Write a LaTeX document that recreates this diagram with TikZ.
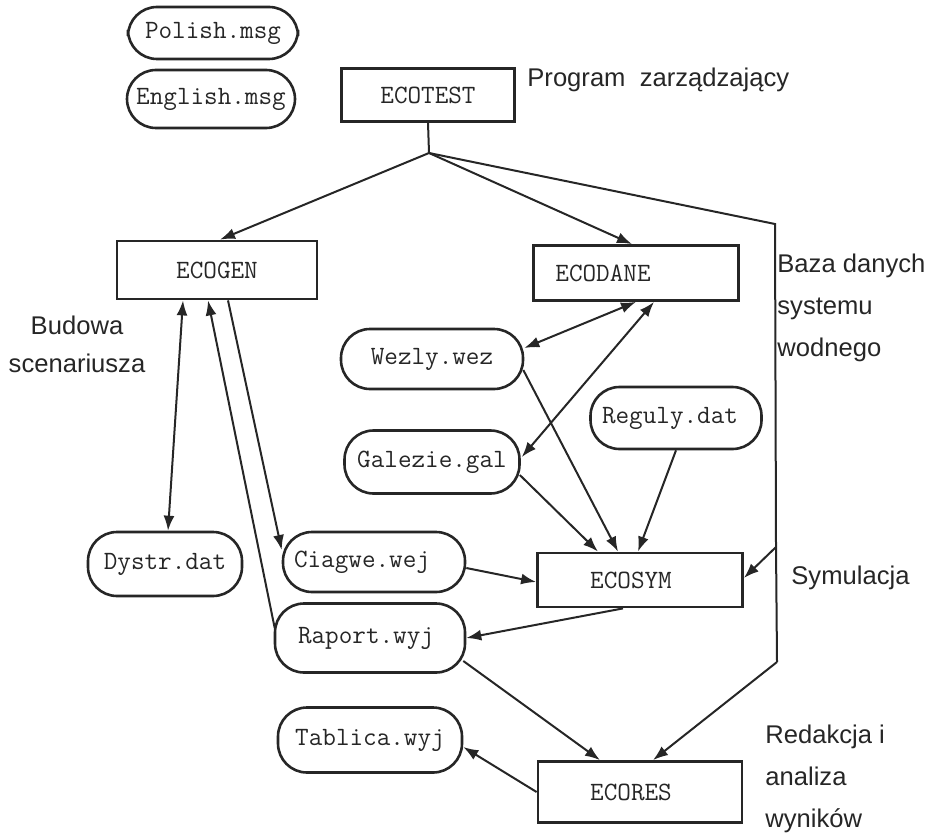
\documentclass[tikz,border=0pt]{standalone}
\usepackage{fontspec}
\setmainfont{Liberation Sans}
\usetikzlibrary{arrows.meta,calc}
\begin{document}
\begin{tikzpicture}[x=0.5pt,y=-0.5pt,
  boxnode/.style={draw=black!85, line width=1.4pt, inner sep=0pt, font=\ttfamily\fontsize{13.2}{14}\selectfont, text=black!85},
  filenode/.style={draw=black!85, line width=1.3pt, rounded corners=14.5pt, inner sep=0pt, font=\ttfamily\fontsize{13.2}{14}\selectfont, text=black!85},
  conn/.style={draw=black!85, line width=1pt},
  arr/.style={conn, -{Latex[length=7.5pt,width=5.5pt]}},
  darr/.style={conn, {Latex[length=7.5pt,width=5.5pt]}-{Latex[length=7.5pt,width=5.5pt]}},
  lbl/.style={font=\fontsize{12.8}{21}\selectfont, text=black!85, inner sep=0pt}
]
\useasboundingbox (0,0) rectangle (935,834);

% nodes
\node[filenode, minimum width=85pt, minimum height=26pt] (polish) at (213,33) {Polish.msg};
\node[filenode, minimum width=84pt, minimum height=29pt] (english) at (211,99) {English.msg};
\node[boxnode, minimum width=86.5pt, minimum height=26.5pt] (ecotest) at (428,95) {ECOTEST};
\node[boxnode, minimum width=100pt, minimum height=29pt] (ecogen) at (217,270) {ECOGEN};
\node[boxnode, minimum width=102.5pt, minimum height=27.5pt] (ecodane) at (636,273) {ECODANE\hspace*{33pt}};
\node[filenode, minimum width=91pt, minimum height=30pt] (wezly) at (432,359) {Wezly.wez};
\node[filenode, minimum width=87.5pt, minimum height=31.5pt] (galezie) at (432,462) {Galezie.gal};
\node[filenode, minimum width=85.5pt, minimum height=31pt] (reguly) at (676,418) {Reguly.dat\hspace*{6pt}};
\node[filenode, minimum width=77pt, minimum height=32pt] (dystr) at (165,564) {Dystr.dat};
\node[filenode, minimum width=91pt, minimum height=30pt] (ciagwe) at (374,562) {Ciagwe.wej\hspace*{12pt}};
\node[filenode, minimum width=95pt, minimum height=34.5pt] (raport) at (370,638) {Raport.wyj\hspace*{4pt}};
\node[filenode, minimum width=92pt, minimum height=32.5pt] (tablica) at (370,740) {Tablica.wyj};
\node[boxnode, minimum width=102.5pt, minimum height=27pt] (ecosym) at (640,580) {ECOSYM\hspace*{9pt}};
\node[boxnode, minimum width=102pt, minimum height=30.5pt] (ecores) at (640,792) {ECORES\hspace*{9pt}};

% labels
\node[lbl, anchor=west] (prog) at (527,80) {Program\ \ zarządzający};
\node[lbl, anchor=west, align=left] (baza) at (777,308) {Baza danych\\systemu\\wodnego};
\node[lbl, align=center, font=\fontsize{12.8}{19}\selectfont] (budowa) at (77,344) {Budowa\\scenariusza};
\node[lbl, anchor=west] (sym) at (791,578) {Symulacja};
\node[lbl, anchor=west, align=left] (red) at (765,779) {Redakcja i\\analiza\\wyników};

% junction coordinates
\coordinate (J) at (429,153);
\coordinate (c1) at (775,224);
\coordinate (c2) at (776,547);
\coordinate (c3) at (777,662);

% connectors from ECOTEST
\draw[conn] (ecotest.south) -- (J);
\draw[arr] (J) -- ($(ecogen.north)+(3,0)$);
\draw[arr] (J) -- ($(ecodane.north)+(-4,0)$);
\draw[conn] (J) -- (c1) -- (c2) -- (c3);
\draw[arr] (c2) -- ($(ecosym.east)+(0,-2)$);
\draw[arr] (c3) -- ($(ecores.north)+(13,0)$);

% ECODANE data
\draw[darr] (ecodane.south) -- ($(wezly.east)+(0,-11)$);
\draw[darr] ($(ecodane.south)+(18,0)$) -- ($(galezie.east)+(1,-5)$);
\draw[arr] ($(wezly.east)+(-1,11)$) -- ($(ecosym.north)+(-22,0)$);
\draw[arr] ($(galezie.east)+(-1,13)$) -- ($(ecosym.north)+(-42,0)$);
\draw[arr] (reguly.south) -- ($(ecosym.north)+(-2,0)$);

% ECOGEN
\draw[darr] ($(ecogen.south)+(-34,0)$) -- ($(dystr.north)+(3,0)$);
\draw[arr] ($(raport.west)+(1,-10)$) -- ($(ecogen.south)+(-9,0)$);
\draw[arr] ($(ecogen.south)+(11,0)$) -- ($(ciagwe.west)+(0,-12)$);

% ECOSYM
\draw[arr] ($(ciagwe.east)+(0,6)$) -- ($(ecosym.west)+(0,2)$);
\draw[arr] ($(ecosym.south)+(-17,0)$) -- (raport.east);
\draw[arr] ($(raport.east)+(-3,23)$) -- ($(ecores.north)+(-40,0)$);
\draw[arr] (ecores.west) -- ($(tablica.east)+(0,7)$);
\end{tikzpicture}
\end{document}
